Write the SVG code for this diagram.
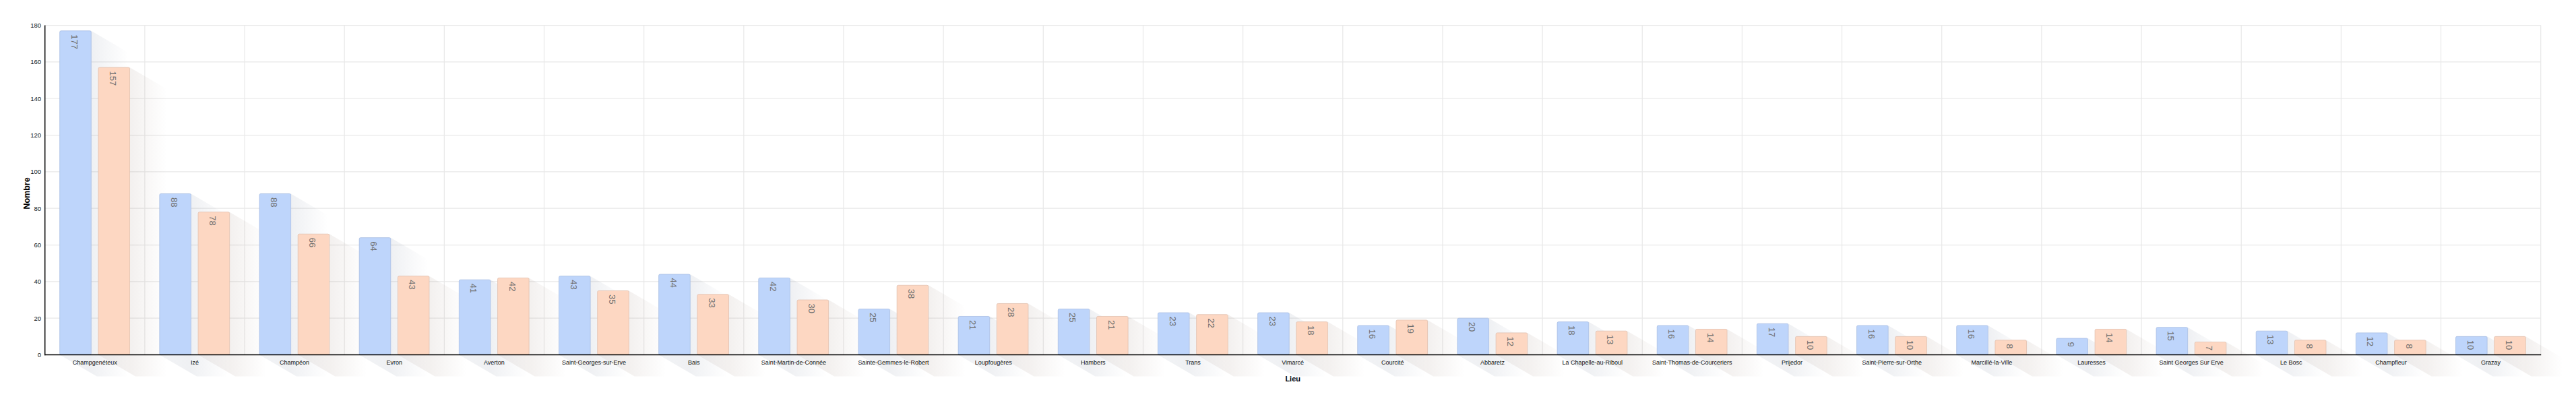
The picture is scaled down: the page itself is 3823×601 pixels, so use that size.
<svg xmlns="http://www.w3.org/2000/svg" width="3823" height="601" viewBox="0 0 3823 601">
<defs>
<linearGradient id="gb" x1="0" y1="0" x2="1" y2="0">
<stop offset="0" stop-color="#4a5a78" stop-opacity="0.07"/>
<stop offset="0.46" stop-color="#4a5a78" stop-opacity="0.09"/>
<stop offset="1" stop-color="#4a5a78" stop-opacity="0"/>
</linearGradient>
<linearGradient id="go" x1="0" y1="0" x2="1" y2="0">
<stop offset="0" stop-color="#785a4a" stop-opacity="0.07"/>
<stop offset="0.46" stop-color="#785a4a" stop-opacity="0.09"/>
<stop offset="1" stop-color="#785a4a" stop-opacity="0"/>
</linearGradient>
</defs>
<style>
.grid line{stroke:#e8e8e8;stroke-width:1.2}
.sb{fill:url(#gb)}
.so{fill:url(#go)}
.bb{fill:#bed5fb;stroke:#a9bfe4;stroke-width:0.8}
.bo{fill:#fdd7c2;stroke:#e2c0ae;stroke-width:0.8}
.v{font-family:"Liberation Sans",Arial,sans-serif;font-size:13px;fill:#6e6e6e}
.c{font-family:"Liberation Sans",Arial,sans-serif;font-size:9px;fill:#111;text-anchor:middle}
.t{font-family:"Liberation Sans",Arial,sans-serif;font-size:9.5px;fill:#111;text-anchor:end}
.ti{font-family:"Liberation Sans",Arial,sans-serif;font-weight:bold;fill:#000;text-anchor:middle}
.ax{stroke:#000;stroke-width:1.5;fill:none}
</style>
<rect width="3823" height="601" fill="#fff"/>
<g id="grid" class="grid">
<line x1="66.7" y1="472.18" x2="3770.7" y2="472.18"/>
<line x1="66.7" y1="417.86" x2="3770.7" y2="417.86"/>
<line x1="66.7" y1="363.54" x2="3770.7" y2="363.54"/>
<line x1="66.7" y1="309.22" x2="3770.7" y2="309.22"/>
<line x1="66.7" y1="254.9" x2="3770.7" y2="254.9"/>
<line x1="66.7" y1="200.58" x2="3770.7" y2="200.58"/>
<line x1="66.7" y1="146.26" x2="3770.7" y2="146.26"/>
<line x1="66.7" y1="91.94" x2="3770.7" y2="91.94"/>
<line x1="66.7" y1="37.62" x2="3770.7" y2="37.62"/>
<line x1="214.86" y1="37.62" x2="214.86" y2="526.5"/>
<line x1="363.02" y1="37.62" x2="363.02" y2="526.5"/>
<line x1="511.18" y1="37.62" x2="511.18" y2="526.5"/>
<line x1="659.34" y1="37.62" x2="659.34" y2="526.5"/>
<line x1="807.5" y1="37.62" x2="807.5" y2="526.5"/>
<line x1="955.66" y1="37.62" x2="955.66" y2="526.5"/>
<line x1="1103.82" y1="37.62" x2="1103.82" y2="526.5"/>
<line x1="1251.98" y1="37.62" x2="1251.98" y2="526.5"/>
<line x1="1400.14" y1="37.62" x2="1400.14" y2="526.5"/>
<line x1="1548.3" y1="37.62" x2="1548.3" y2="526.5"/>
<line x1="1696.46" y1="37.62" x2="1696.46" y2="526.5"/>
<line x1="1844.62" y1="37.62" x2="1844.62" y2="526.5"/>
<line x1="1992.78" y1="37.62" x2="1992.78" y2="526.5"/>
<line x1="2140.94" y1="37.62" x2="2140.94" y2="526.5"/>
<line x1="2289.1" y1="37.62" x2="2289.1" y2="526.5"/>
<line x1="2437.26" y1="37.62" x2="2437.26" y2="526.5"/>
<line x1="2585.42" y1="37.62" x2="2585.42" y2="526.5"/>
<line x1="2733.58" y1="37.62" x2="2733.58" y2="526.5"/>
<line x1="2881.74" y1="37.62" x2="2881.74" y2="526.5"/>
<line x1="3029.9" y1="37.62" x2="3029.9" y2="526.5"/>
<line x1="3178.06" y1="37.62" x2="3178.06" y2="526.5"/>
<line x1="3326.22" y1="37.62" x2="3326.22" y2="526.5"/>
<line x1="3474.38" y1="37.62" x2="3474.38" y2="526.5"/>
<line x1="3622.54" y1="37.62" x2="3622.54" y2="526.5"/>
<line x1="3770.7" y1="37.62" x2="3770.7" y2="526.5"/>
</g>

<g id="champgeneteux" transform="translate(66.7,0)">
<path class="sb" d="M22,45.77 h46.6 l55,32 V558.5 h-46.6 l-55,-32 Z"/>
<path class="so" d="M79.2,100.09 h46.6 l55,32 V558.5 h-46.6 l-55,-32 Z"/>
<rect class="bb" x="22" y="45.77" width="46.6" height="480.73" rx="2"/>
<rect class="bo" x="79.2" y="100.09" width="46.6" height="426.41" rx="2"/>
<text class="v" transform="translate(39.1,51.27) rotate(90)">177</text>
<text class="v" transform="translate(96.3,105.59) rotate(90)">157</text>
<text class="c" x="74.08" y="541">Champgenéteux</text>
</g>
<g id="ize" transform="translate(214.86,0)">
<path class="sb" d="M22,287.49 h46.6 l55,32 V558.5 h-46.6 l-55,-32 Z"/>
<path class="so" d="M79.2,314.65 h46.6 l55,32 V558.5 h-46.6 l-55,-32 Z"/>
<rect class="bb" x="22" y="287.49" width="46.6" height="239.01" rx="2"/>
<rect class="bo" x="79.2" y="314.65" width="46.6" height="211.85" rx="2"/>
<text class="v" transform="translate(39.1,292.99) rotate(90)">88</text>
<text class="v" transform="translate(96.3,320.15) rotate(90)">78</text>
<text class="c" x="74.08" y="541">Izé</text>
</g>
<g id="champeon" transform="translate(363.02,0)">
<path class="sb" d="M22,287.49 h46.6 l55,32 V558.5 h-46.6 l-55,-32 Z"/>
<path class="so" d="M79.2,347.24 h46.6 l55,32 V558.5 h-46.6 l-55,-32 Z"/>
<rect class="bb" x="22" y="287.49" width="46.6" height="239.01" rx="2"/>
<rect class="bo" x="79.2" y="347.24" width="46.6" height="179.26" rx="2"/>
<text class="v" transform="translate(39.1,292.99) rotate(90)">88</text>
<text class="v" transform="translate(96.3,352.74) rotate(90)">66</text>
<text class="c" x="74.08" y="541">Champéon</text>
</g>
<g id="evron" transform="translate(511.18,0)">
<path class="sb" d="M22,352.68 h46.6 l55,32 V558.5 h-46.6 l-55,-32 Z"/>
<path class="so" d="M79.2,409.71 h46.6 l55,32 V558.5 h-46.6 l-55,-32 Z"/>
<rect class="bb" x="22" y="352.68" width="46.6" height="173.82" rx="2"/>
<rect class="bo" x="79.2" y="409.71" width="46.6" height="116.79" rx="2"/>
<text class="v" transform="translate(39.1,358.18) rotate(90)">64</text>
<text class="v" transform="translate(96.3,415.21) rotate(90)">43</text>
<text class="c" x="74.08" y="541">Evron</text>
</g>
<g id="averton" transform="translate(659.34,0)">
<path class="sb" d="M22,415.14 h46.6 l55,32 V558.5 h-46.6 l-55,-32 Z"/>
<path class="so" d="M79.2,412.43 h46.6 l55,32 V558.5 h-46.6 l-55,-32 Z"/>
<rect class="bb" x="22" y="415.14" width="46.6" height="111.36" rx="2"/>
<rect class="bo" x="79.2" y="412.43" width="46.6" height="114.07" rx="2"/>
<text class="v" transform="translate(39.1,420.64) rotate(90)">41</text>
<text class="v" transform="translate(96.3,417.93) rotate(90)">42</text>
<text class="c" x="74.08" y="541">Averton</text>
</g>
<g id="saint-georges-sur-erve" transform="translate(807.5,0)">
<path class="sb" d="M22,409.71 h46.6 l55,32 V558.5 h-46.6 l-55,-32 Z"/>
<path class="so" d="M79.2,431.44 h46.6 l55,32 V558.5 h-46.6 l-55,-32 Z"/>
<rect class="bb" x="22" y="409.71" width="46.6" height="116.79" rx="2"/>
<rect class="bo" x="79.2" y="431.44" width="46.6" height="95.06" rx="2"/>
<text class="v" transform="translate(39.1,415.21) rotate(90)">43</text>
<text class="v" transform="translate(96.3,436.94) rotate(90)">35</text>
<text class="c" x="74.08" y="541">Saint-Georges-sur-Erve</text>
</g>
<g id="bais" transform="translate(955.66,0)">
<path class="sb" d="M22,407 h46.6 l55,32 V558.5 h-46.6 l-55,-32 Z"/>
<path class="so" d="M79.2,436.87 h46.6 l55,32 V558.5 h-46.6 l-55,-32 Z"/>
<rect class="bb" x="22" y="407" width="46.6" height="119.5" rx="2"/>
<rect class="bo" x="79.2" y="436.87" width="46.6" height="89.63" rx="2"/>
<text class="v" transform="translate(39.1,412.5) rotate(90)">44</text>
<text class="v" transform="translate(96.3,442.37) rotate(90)">33</text>
<text class="c" x="74.08" y="541">Bais</text>
</g>
<g id="saint-martin-de-connee" transform="translate(1103.82,0)">
<path class="sb" d="M22,412.43 h46.6 l55,32 V558.5 h-46.6 l-55,-32 Z"/>
<path class="so" d="M79.2,445.02 h46.6 l55,32 V558.5 h-46.6 l-55,-32 Z"/>
<rect class="bb" x="22" y="412.43" width="46.6" height="114.07" rx="2"/>
<rect class="bo" x="79.2" y="445.02" width="46.6" height="81.48" rx="2"/>
<text class="v" transform="translate(39.1,417.93) rotate(90)">42</text>
<text class="v" transform="translate(96.3,450.52) rotate(90)">30</text>
<text class="c" x="74.08" y="541">Saint-Martin-de-Connée</text>
</g>
<g id="sainte-gemmes-le-robert" transform="translate(1251.98,0)">
<path class="sb" d="M22,458.6 h46.6 l55,32 V558.5 h-46.6 l-55,-32 Z"/>
<path class="so" d="M79.2,423.29 h46.6 l55,32 V558.5 h-46.6 l-55,-32 Z"/>
<rect class="bb" x="22" y="458.6" width="46.6" height="67.9" rx="2"/>
<rect class="bo" x="79.2" y="423.29" width="46.6" height="103.21" rx="2"/>
<text class="v" transform="translate(39.1,464.1) rotate(90)">25</text>
<text class="v" transform="translate(96.3,428.79) rotate(90)">38</text>
<text class="c" x="74.08" y="541">Sainte-Gemmes-le-Robert</text>
</g>
<g id="loupfougeres" transform="translate(1400.14,0)">
<path class="sb" d="M22,469.46 h46.6 l55,32 V558.5 h-46.6 l-55,-32 Z"/>
<path class="so" d="M79.2,450.45 h46.6 l55,32 V558.5 h-46.6 l-55,-32 Z"/>
<rect class="bb" x="22" y="469.46" width="46.6" height="57.04" rx="2"/>
<rect class="bo" x="79.2" y="450.45" width="46.6" height="76.05" rx="2"/>
<text class="v" transform="translate(39.1,474.96) rotate(90)">21</text>
<text class="v" transform="translate(96.3,455.95) rotate(90)">28</text>
<text class="c" x="74.08" y="541">Loupfougères</text>
</g>
<g id="hambers" transform="translate(1548.3,0)">
<path class="sb" d="M22,458.6 h46.6 l55,32 V558.5 h-46.6 l-55,-32 Z"/>
<path class="so" d="M79.2,469.46 h46.6 l55,32 V558.5 h-46.6 l-55,-32 Z"/>
<rect class="bb" x="22" y="458.6" width="46.6" height="67.9" rx="2"/>
<rect class="bo" x="79.2" y="469.46" width="46.6" height="57.04" rx="2"/>
<text class="v" transform="translate(39.1,464.1) rotate(90)">25</text>
<text class="v" transform="translate(96.3,474.96) rotate(90)">21</text>
<text class="c" x="74.08" y="541">Hambers</text>
</g>
<g id="trans" transform="translate(1696.46,0)">
<path class="sb" d="M22,464.03 h46.6 l55,32 V558.5 h-46.6 l-55,-32 Z"/>
<path class="so" d="M79.2,466.75 h46.6 l55,32 V558.5 h-46.6 l-55,-32 Z"/>
<rect class="bb" x="22" y="464.03" width="46.6" height="62.47" rx="2"/>
<rect class="bo" x="79.2" y="466.75" width="46.6" height="59.75" rx="2"/>
<text class="v" transform="translate(39.1,469.53) rotate(90)">23</text>
<text class="v" transform="translate(96.3,472.25) rotate(90)">22</text>
<text class="c" x="74.08" y="541">Trans</text>
</g>
<g id="vimarce" transform="translate(1844.62,0)">
<path class="sb" d="M22,464.03 h46.6 l55,32 V558.5 h-46.6 l-55,-32 Z"/>
<path class="so" d="M79.2,477.61 h46.6 l55,32 V558.5 h-46.6 l-55,-32 Z"/>
<rect class="bb" x="22" y="464.03" width="46.6" height="62.47" rx="2"/>
<rect class="bo" x="79.2" y="477.61" width="46.6" height="48.89" rx="2"/>
<text class="v" transform="translate(39.1,469.53) rotate(90)">23</text>
<text class="v" transform="translate(96.3,483.11) rotate(90)">18</text>
<text class="c" x="74.08" y="541">Vimarcé</text>
</g>
<g id="courcite" transform="translate(1992.78,0)">
<path class="sb" d="M22,483.04 h46.6 l55,32 V558.5 h-46.6 l-55,-32 Z"/>
<path class="so" d="M79.2,474.9 h46.6 l55,32 V558.5 h-46.6 l-55,-32 Z"/>
<rect class="bb" x="22" y="483.04" width="46.6" height="43.46" rx="2"/>
<rect class="bo" x="79.2" y="474.9" width="46.6" height="51.6" rx="2"/>
<text class="v" transform="translate(39.1,488.54) rotate(90)">16</text>
<text class="v" transform="translate(96.3,480.4) rotate(90)">19</text>
<text class="c" x="74.08" y="541">Courcité</text>
</g>
<g id="abbaretz" transform="translate(2140.94,0)">
<path class="sb" d="M22,472.18 h46.6 l55,32 V558.5 h-46.6 l-55,-32 Z"/>
<path class="so" d="M79.2,493.91 h46.6 l55,32 V558.5 h-46.6 l-55,-32 Z"/>
<rect class="bb" x="22" y="472.18" width="46.6" height="54.32" rx="2"/>
<rect class="bo" x="79.2" y="493.91" width="46.6" height="32.59" rx="2"/>
<text class="v" transform="translate(39.1,477.68) rotate(90)">20</text>
<text class="v" transform="translate(96.3,499.41) rotate(90)">12</text>
<text class="c" x="74.08" y="541">Abbaretz</text>
</g>
<g id="la-chapelle-au-riboul" transform="translate(2289.1,0)">
<path class="sb" d="M22,477.61 h46.6 l55,32 V558.5 h-46.6 l-55,-32 Z"/>
<path class="so" d="M79.2,491.19 h46.6 l55,32 V558.5 h-46.6 l-55,-32 Z"/>
<rect class="bb" x="22" y="477.61" width="46.6" height="48.89" rx="2"/>
<rect class="bo" x="79.2" y="491.19" width="46.6" height="35.31" rx="2"/>
<text class="v" transform="translate(39.1,483.11) rotate(90)">18</text>
<text class="v" transform="translate(96.3,496.69) rotate(90)">13</text>
<text class="c" x="74.08" y="541">La Chapelle-au-Riboul</text>
</g>
<g id="saint-thomas-de-courceriers" transform="translate(2437.26,0)">
<path class="sb" d="M22,483.04 h46.6 l55,32 V558.5 h-46.6 l-55,-32 Z"/>
<path class="so" d="M79.2,488.48 h46.6 l55,32 V558.5 h-46.6 l-55,-32 Z"/>
<rect class="bb" x="22" y="483.04" width="46.6" height="43.46" rx="2"/>
<rect class="bo" x="79.2" y="488.48" width="46.6" height="38.02" rx="2"/>
<text class="v" transform="translate(39.1,488.54) rotate(90)">16</text>
<text class="v" transform="translate(96.3,493.98) rotate(90)">14</text>
<text class="c" x="74.08" y="541">Saint-Thomas-de-Courceriers</text>
</g>
<g id="prijedor" transform="translate(2585.42,0)">
<path class="sb" d="M22,480.33 h46.6 l55,32 V558.5 h-46.6 l-55,-32 Z"/>
<path class="so" d="M79.2,499.34 h46.6 l55,32 V558.5 h-46.6 l-55,-32 Z"/>
<rect class="bb" x="22" y="480.33" width="46.6" height="46.17" rx="2"/>
<rect class="bo" x="79.2" y="499.34" width="46.6" height="27.16" rx="2"/>
<text class="v" transform="translate(39.1,485.83) rotate(90)">17</text>
<text class="v" transform="translate(96.3,504.84) rotate(90)">10</text>
<text class="c" x="74.08" y="541">Prijedor</text>
</g>
<g id="saint-pierre-sur-orthe" transform="translate(2733.58,0)">
<path class="sb" d="M22,483.04 h46.6 l55,32 V558.5 h-46.6 l-55,-32 Z"/>
<path class="so" d="M79.2,499.34 h46.6 l55,32 V558.5 h-46.6 l-55,-32 Z"/>
<rect class="bb" x="22" y="483.04" width="46.6" height="43.46" rx="2"/>
<rect class="bo" x="79.2" y="499.34" width="46.6" height="27.16" rx="2"/>
<text class="v" transform="translate(39.1,488.54) rotate(90)">16</text>
<text class="v" transform="translate(96.3,504.84) rotate(90)">10</text>
<text class="c" x="74.08" y="541">Saint-Pierre-sur-Orthe</text>
</g>
<g id="marcille-la-ville" transform="translate(2881.74,0)">
<path class="sb" d="M22,483.04 h46.6 l55,32 V558.5 h-46.6 l-55,-32 Z"/>
<path class="so" d="M79.2,504.77 h46.6 l55,32 V558.5 h-46.6 l-55,-32 Z"/>
<rect class="bb" x="22" y="483.04" width="46.6" height="43.46" rx="2"/>
<rect class="bo" x="79.2" y="504.77" width="46.6" height="21.73" rx="2"/>
<text class="v" transform="translate(39.1,488.54) rotate(90)">16</text>
<text class="v" transform="translate(96.3,510.27) rotate(90)">8</text>
<text class="c" x="74.08" y="541">Marcillé-la-Ville</text>
</g>
<g id="lauresses" transform="translate(3029.9,0)">
<path class="sb" d="M22,502.06 h46.6 l55,32 V558.5 h-46.6 l-55,-32 Z"/>
<path class="so" d="M79.2,488.48 h46.6 l55,32 V558.5 h-46.6 l-55,-32 Z"/>
<rect class="bb" x="22" y="502.06" width="46.6" height="24.44" rx="2"/>
<rect class="bo" x="79.2" y="488.48" width="46.6" height="38.02" rx="2"/>
<text class="v" transform="translate(39.1,507.56) rotate(90)">9</text>
<text class="v" transform="translate(96.3,493.98) rotate(90)">14</text>
<text class="c" x="74.08" y="541">Lauresses</text>
</g>
<g id="saint-georges-sur-erve-2" transform="translate(3178.06,0)">
<path class="sb" d="M22,485.76 h46.6 l55,32 V558.5 h-46.6 l-55,-32 Z"/>
<path class="so" d="M79.2,507.49 h46.6 l55,32 V558.5 h-46.6 l-55,-32 Z"/>
<rect class="bb" x="22" y="485.76" width="46.6" height="40.74" rx="2"/>
<rect class="bo" x="79.2" y="507.49" width="46.6" height="19.01" rx="2"/>
<text class="v" transform="translate(39.1,491.26) rotate(90)">15</text>
<text class="v" transform="translate(96.3,512.99) rotate(90)">7</text>
<text class="c" x="74.08" y="541">Saint Georges Sur Erve</text>
</g>
<g id="le-bosc" transform="translate(3326.22,0)">
<path class="sb" d="M22,491.19 h46.6 l55,32 V558.5 h-46.6 l-55,-32 Z"/>
<path class="so" d="M79.2,504.77 h46.6 l55,32 V558.5 h-46.6 l-55,-32 Z"/>
<rect class="bb" x="22" y="491.19" width="46.6" height="35.31" rx="2"/>
<rect class="bo" x="79.2" y="504.77" width="46.6" height="21.73" rx="2"/>
<text class="v" transform="translate(39.1,496.69) rotate(90)">13</text>
<text class="v" transform="translate(96.3,510.27) rotate(90)">8</text>
<text class="c" x="74.08" y="541">Le Bosc</text>
</g>
<g id="champfleur" transform="translate(3474.38,0)">
<path class="sb" d="M22,493.91 h46.6 l55,32 V558.5 h-46.6 l-55,-32 Z"/>
<path class="so" d="M79.2,504.77 h46.6 l55,32 V558.5 h-46.6 l-55,-32 Z"/>
<rect class="bb" x="22" y="493.91" width="46.6" height="32.59" rx="2"/>
<rect class="bo" x="79.2" y="504.77" width="46.6" height="21.73" rx="2"/>
<text class="v" transform="translate(39.1,499.41) rotate(90)">12</text>
<text class="v" transform="translate(96.3,510.27) rotate(90)">8</text>
<text class="c" x="74.08" y="541">Champfleur</text>
</g>
<g id="grazay" transform="translate(3622.54,0)">
<path class="sb" d="M22,499.34 h46.6 l55,32 V558.5 h-46.6 l-55,-32 Z"/>
<path class="so" d="M79.2,499.34 h46.6 l55,32 V558.5 h-46.6 l-55,-32 Z"/>
<rect class="bb" x="22" y="499.34" width="46.6" height="27.16" rx="2"/>
<rect class="bo" x="79.2" y="499.34" width="46.6" height="27.16" rx="2"/>
<text class="v" transform="translate(39.1,504.84) rotate(90)">10</text>
<text class="v" transform="translate(96.3,504.84) rotate(90)">10</text>
<text class="c" x="74.08" y="541">Grazay</text>
</g>

<g id="axes">
<line class="ax" x1="66.7" y1="37.6" x2="66.7" y2="527.2"/>
<line class="ax" x1="66" y1="526.5" x2="3771.2" y2="526.5"/>
<text class="t" x="61" y="529.9">0</text>
<text class="t" x="61" y="475.58">20</text>
<text class="t" x="61" y="421.26">40</text>
<text class="t" x="61" y="366.94">60</text>
<text class="t" x="61" y="312.62">80</text>
<text class="t" x="61" y="258.3">100</text>
<text class="t" x="61" y="203.98">120</text>
<text class="t" x="61" y="149.66">140</text>
<text class="t" x="61" y="95.34">160</text>
<text class="t" x="61" y="41.02">180</text>
<text class="ti" style="font-size:11px" x="1918.7" y="566">Lieu</text>
<text class="ti" style="font-size:12.5px" transform="translate(43.5,287) rotate(-90)">Nombre</text>
</g>
</svg>
